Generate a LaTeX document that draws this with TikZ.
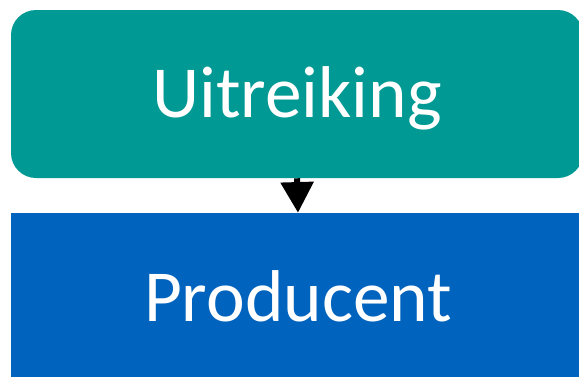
\documentclass[tikz,border=0pt]{standalone}
\usepackage{fontspec}
\setmainfont{Carlito}
\definecolor{stapteal}{RGB}{0, 153, 148}
\definecolor{stapblue}{RGB}{0, 99, 190}
\usetikzlibrary{arrows.meta, positioning}

\begin{document}
\begin{tikzpicture}[x=0.75pt, y=-0.75pt,
    stapbox/.style={inner sep=0pt, text=white, text height=35.4pt, text depth=0pt,
                    font=\fontsize{55}{62}\selectfont},
    stappijl/.style={line width=4.5pt, -{Triangle[width=24pt, length=23pt]}}]
    \useasboundingbox (0,0) rectangle (579,376);
    \clip (0,0) rectangle (579,376);
    % Stappen
    \node[stapbox, fill=stapteal, rounded corners=18.75pt,
          minimum width=429pt, minimum height=126pt] (uitreiking) at (297,94) {Uitreiking};
    \node[stapbox, fill=stapblue,
          minimum width=430.5pt, minimum height=127.5pt] (producent) at (298,298) {Producent};
    % Verbinding
    \draw[stappijl] (uitreiking.south) -- (producent.north);
\end{tikzpicture}
\end{document}
